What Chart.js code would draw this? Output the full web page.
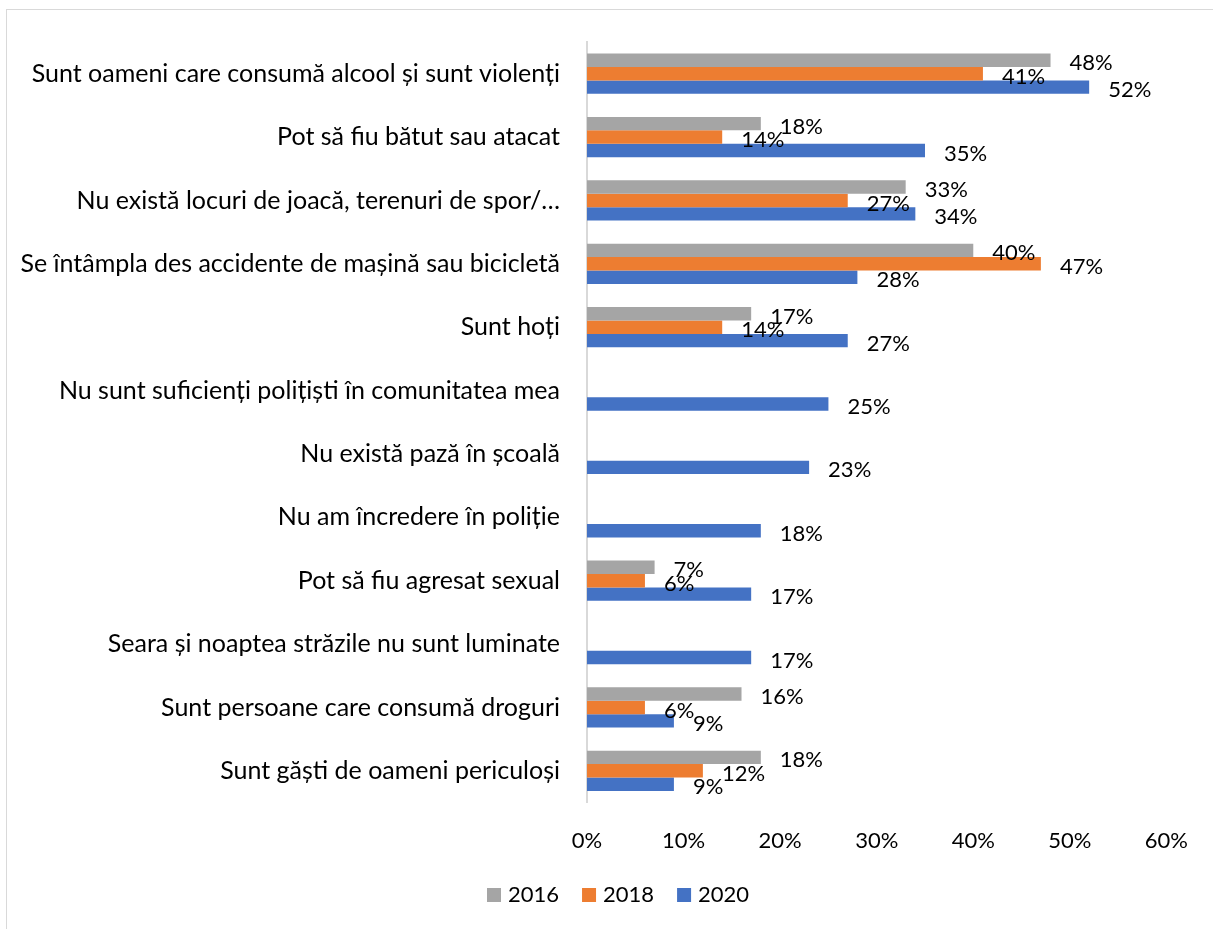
<!DOCTYPE html>
<html>
<head>
<meta charset="utf-8">
<script src="https://cdn.jsdelivr.net/npm/chart.js@4/dist/chart.umd.min.js"></script>
<style>
  html, body { margin: 0; padding: 0; background: #fff; overflow: hidden; }
  #frame { position: absolute; left: 6px; top: 9px; width: 1300px; height: 1000px; border: 1px solid #d9d9d9; }
  #wrap { position: absolute; left: 0; top: 0; width: 1213px; height: 929px; }
</style>
</head>
<body>
<div id="frame"></div>
<div id="wrap"><canvas id="c" width="1213" height="929"></canvas></div>
<script>
  'use strict'

  const categories = [
    'Sunt oameni care consumă alcool și sunt violenți',
    'Pot să fiu bătut sau atacat',
    'Nu există locuri de joacă, terenuri de spor/…',
    'Se întâmpla des accidente de mașină sau bicicletă',
    'Sunt hoți',
    'Nu sunt suficienți polițiști în comunitatea mea',
    'Nu există pază în școală',
    'Nu am încredere în poliție',
    'Pot să fiu agresat sexual',
    'Seara și noaptea străzile nu sunt luminate',
    'Sunt persoane care consumă droguri',
    'Sunt găști de oameni periculoși'
  ]

  const values2016 = [48, 18, 33, 40, 17, null, null, null, 7, null, 16, 18]
  const values2018 = [41, 14, 27, 47, 14, null, null, null, 6, null, 6, 12]
  const values2020 = [52, 35, 34, 28, 27, 25, 23, 18, 17, 17, 9, 9]

  const seriesNames = ['2016', '2018', '2020']
  const xTicks = [0, 10, 20, 30, 40, 50, 60]

  const FONT = 'Lato'
  const LABEL_SIZE = 25   // category names
  const NUM_SIZE = 22     // numbers: ticks, value labels, legend

  // value labels to the right of each bar, like the excel ones
  const valueLabels = {
    id: 'valueLabels',
    afterDatasetsDraw(chart) {
      const ctx = chart.ctx
      ctx.save()
      ctx.font = `${NUM_SIZE}px ${FONT}`
      ctx.fillStyle = '#000'
      ctx.textAlign = 'left'
      ctx.textBaseline = 'middle'
      chart.data.datasets.forEach((ds, i) => {
        const meta = chart.getDatasetMeta(i)
        meta.data.forEach((bar, j) => {
          const v = ds.data[j]
          if (v === null || v === undefined) return
          ctx.fillText(v + '%', bar.x + 19, bar.y + 3)
        })
      })
      ctx.restore()
    }
  }

  // legend drawn by hand so it sits where excel put it
  const bottomLegend = {
    id: 'bottomLegend',
    afterDraw(chart) {
      const ctx = chart.ctx
      ctx.save()
      ctx.font = `${NUM_SIZE}px ${FONT}`
      ctx.textBaseline = 'middle'
      ctx.textAlign = 'left'
      let x = 487
      const y = 895
      chart.data.datasets.forEach(ds => {
        ctx.fillStyle = ds.backgroundColor
        ctx.fillRect(x, y - 7, 14, 14)
        ctx.fillStyle = '#000'
        ctx.fillText(ds.label, x + 21, y)
        x += 21 + ctx.measureText(ds.label).width + 23
      })
      ctx.restore()
    }
  }

  const chart = new Chart(document.getElementById('c'), {
    type: 'bar',
    data: {
      labels: categories,
      datasets: [
        { label: seriesNames[0], data: values2016, backgroundColor: '#A5A5A5' },
        { label: seriesNames[1], data: values2018, backgroundColor: '#ED7D31' },
        { label: seriesNames[2], data: values2020, backgroundColor: '#4472C4' }
      ]
    },
    options: {
      indexAxis: 'y',
      responsive: false,
      animation: false,
      devicePixelRatio: 1,
      categoryPercentage: 0.635,
      barPercentage: 1,
      layout: { padding: { left: 0, top: 38.5, right: 45, bottom: 0 } },
      plugins: {
        legend: { display: false },
        tooltip: { enabled: false }
      },
      scales: {
        x: {
          min: 0,
          max: 60,
          afterBuildTicks: scale => { scale.ticks = xTicks.map(v => ({ value: v })) },
          afterFit: scale => { scale.height = 929 - 802.5 },
          grid: { display: false, drawTicks: false },
          border: { display: false },
          ticks: {
            padding: 25,
            color: '#000',
            font: { family: FONT, size: NUM_SIZE },
            callback: v => v + '%'
          }
        },
        y: {
          afterFit: scale => { scale.width = 587 },
          grid: { display: false, drawTicks: false },
          border: { display: true, color: '#d9d9d9', width: 2 },
          ticks: {
            padding: 27,
            color: '#000',
            autoSkip: false,
            font: { family: FONT, size: LABEL_SIZE }
          }
        }
      }
    },
    plugins: [valueLabels, bottomLegend]
  })
</script>
</body>
</html>
